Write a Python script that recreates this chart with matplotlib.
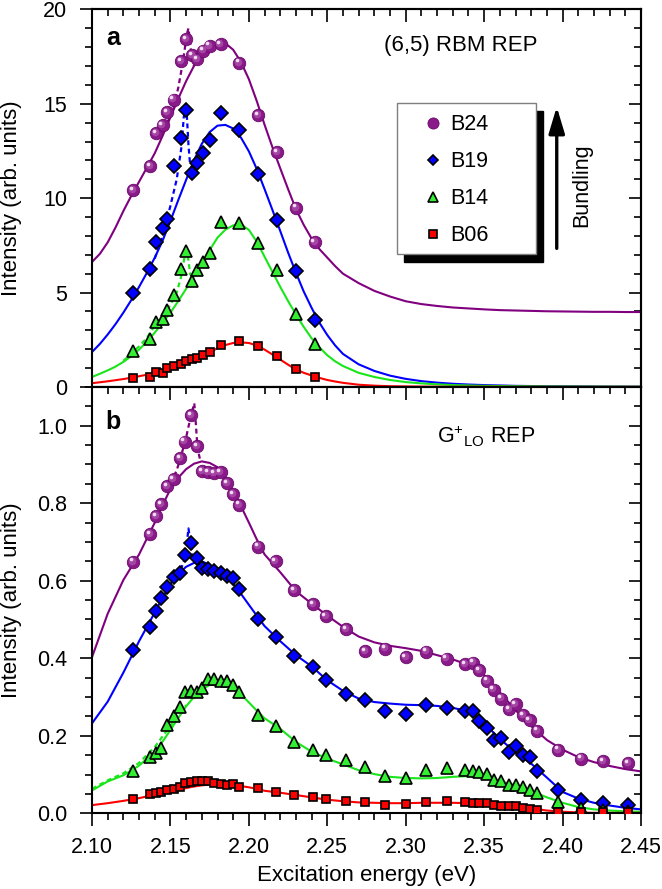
import matplotlib
matplotlib.use('Agg')
import matplotlib.pyplot as plt
from matplotlib.lines import Line2D
from matplotlib.patches import Rectangle
from matplotlib.ticker import MultipleLocator, FormatStrFormatter
from matplotlib.transforms import offset_copy

plt.rcParams['font.family'] = ['Liberation Sans', 'DejaVu Sans']
plt.rcParams['mathtext.default'] = 'regular'

# ---- data ----
# panel a: (6,5) RBM resonance excitation profiles
energy_a = [2.126, 2.137, 2.141, 2.145, 2.148, 2.152, 2.157, 2.160, 2.164, 2.167,
            2.171, 2.175, 2.182, 2.194, 2.206, 2.218, 2.230, 2.242]
b24_a = [10.42, 11.71, 13.43, 13.87, 14.57, 15.22, 17.26, 18.41, 17.57, 17.35,
         17.81, 18.07, 18.14, 17.17, 14.40, 12.45, 9.49, 7.68]
b19_a = [4.97, 6.23, 7.68, 8.44, 8.91, 11.70, 13.21, 14.69, 11.33, 11.84,
         12.40, 13.10, 14.52, 13.59, 11.30, 8.86, 6.14, 3.56]
b14_a = [1.93, 2.52, 3.44, 3.62, 4.09, 4.88, 6.27, 7.20, 5.60, 6.18,
         6.62, 7.09, 8.74, 8.68, 7.60, 6.21, 3.88, 2.29]
b06_a = [0.48, 0.52, 0.78, 0.73, 0.99, 1.11, 1.20, 1.35, 1.46, 1.53,
         1.67, 1.85, 2.20, 2.43, 2.16, 1.62, 0.97, 0.55]

# panel b: G+LO resonance excitation profiles
energy_b = [2.126, 2.137, 2.141, 2.144, 2.148, 2.152, 2.156, 2.159, 2.163, 2.167,
            2.170, 2.174, 2.178, 2.182, 2.186, 2.190, 2.194, 2.206, 2.217, 2.229,
            2.241, 2.249, 2.262, 2.274, 2.287, 2.300, 2.313, 2.326, 2.338, 2.343,
            2.347, 2.352, 2.356, 2.361, 2.366, 2.370, 2.375, 2.379, 2.384, 2.397,
            2.412, 2.426, 2.442]
b24_b = [0.649, 0.720, 0.767, 0.797, 0.845, 0.862, 0.916, 0.959, 1.028, 0.948,
         0.883, 0.881, 0.877, 0.881, 0.852, 0.824, 0.796, 0.688, 0.651, 0.575,
         0.539, 0.508, 0.475, 0.419, 0.425, 0.403, 0.417, 0.399, 0.384, 0.389,
         0.369, 0.342, 0.319, 0.296, 0.269, 0.281, 0.253, 0.241, 0.213, 0.164,
         0.141, 0.135, 0.129]
b19_b = [0.422, 0.480, 0.521, 0.556, 0.584, 0.609, 0.620, 0.666, 0.698, 0.658,
         0.633, 0.631, 0.625, 0.619, 0.613, 0.606, 0.578, 0.500, 0.455, 0.406,
         0.377, 0.345, 0.308, 0.292, 0.265, 0.257, 0.279, 0.271, 0.263, 0.263,
         0.239, 0.219, 0.189, 0.195, 0.157, 0.174, 0.150, 0.146, 0.109, 0.060,
         0.034, 0.027, 0.021]
b14_b = [0.108, 0.146, 0.155, 0.168, 0.228, 0.251, 0.275, 0.312, 0.316, 0.314,
         0.323, 0.346, 0.346, 0.340, 0.340, 0.331, 0.314, 0.253, 0.226, 0.185,
         0.163, 0.150, 0.137, 0.120, 0.096, 0.090, 0.112, 0.116, 0.112, 0.109,
         0.106, 0.102, 0.086, 0.083, 0.073, 0.073, 0.069, 0.059, 0.052, 0.030,
         0.013, 0.009, 0.007]
b06_b = [0.036, 0.050, 0.052, 0.056, 0.060, 0.063, 0.069, 0.077, 0.081, 0.084,
         0.084, 0.084, 0.079, 0.075, 0.073, 0.075, 0.069, 0.065, 0.054, 0.048,
         0.042, 0.038, 0.032, 0.028, 0.022, 0.025, 0.028, 0.031, 0.028, 0.026,
         0.026, 0.026, 0.021, 0.020, 0.019, 0.019, 0.013, 0.012, 0.009, 0.004,
         0.003, 0.003, 0.002]

# fitted curves (solid), read every 5 meV around the peaks, 10 meV elsewhere
fit_energy_a = [2.100, 2.105, 2.110, 2.115, 2.120, 2.125, 2.130, 2.135, 2.140, 2.145,
                2.150, 2.155, 2.160, 2.165, 2.170, 2.175, 2.180, 2.185, 2.190, 2.195,
                2.200, 2.205, 2.210, 2.215, 2.220, 2.225, 2.230, 2.235, 2.240, 2.245,
                2.250, 2.255, 2.260, 2.27, 2.28, 2.29, 2.30, 2.31, 2.32, 2.33,
                2.34, 2.35, 2.36, 2.37, 2.38, 2.39, 2.40, 2.41, 2.42, 2.43,
                2.44, 2.45]
fit_b24_a = [6.62, 7.05, 7.66, 8.45, 9.32, 10.12, 10.87, 11.62, 12.38, 13.30,
             14.29, 15.27, 16.20, 17.00, 17.66, 18.05, 18.21, 18.20, 17.86, 17.20,
             16.30, 15.15, 13.89, 12.70, 11.58, 10.48, 9.42, 8.58, 7.86, 7.30,
             6.85, 6.40, 6.00, 5.50, 5.09, 4.79, 4.54, 4.39, 4.29, 4.21,
             4.16, 4.11, 4.07, 4.05, 4.03, 4.01, 4.00, 3.99, 3.98, 3.98,
             3.97, 3.97]
fit_b19_a = [1.85, 2.28, 2.78, 3.33, 3.94, 4.60, 5.30, 6.05, 6.85, 7.75,
             8.80, 9.90, 10.97, 12.00, 12.88, 13.50, 13.84, 13.88, 13.69, 13.20,
             12.48, 11.55, 10.48, 9.38, 8.26, 7.12, 6.05, 5.05, 4.19, 3.40,
             2.75, 2.20, 1.75, 1.20, 0.85, 0.60, 0.43, 0.31, 0.23, 0.17,
             0.13, 0.10, 0.08, 0.06, 0.05, 0.04, 0.035, 0.03, 0.025, 0.02,
             0.02, 0.015]
fit_b14_a = [0.53, 0.70, 0.88, 1.08, 1.33, 1.63, 1.98, 2.40, 2.88, 3.40,
             3.94, 4.55, 5.20, 5.88, 6.55, 7.25, 7.91, 8.33, 8.56, 8.60,
             8.32, 7.70, 6.90, 6.10, 5.30, 4.55, 3.84, 3.18, 2.58, 2.10,
             1.68, 1.36, 1.11, 0.75, 0.53, 0.37, 0.26, 0.19, 0.14, 0.10,
             0.08, 0.06, 0.05, 0.04, 0.035, 0.03, 0.025, 0.02, 0.02, 0.02,
             0.015, 0.015]
fit_b06_a = [0.20, 0.25, 0.30, 0.36, 0.42, 0.49, 0.57, 0.65, 0.74, 0.86,
             1.00, 1.15, 1.31, 1.48, 1.65, 1.85, 2.05, 2.22, 2.33, 2.36,
             2.33, 2.20, 1.98, 1.72, 1.45, 1.18, 0.93, 0.75, 0.61, 0.48,
             0.37, 0.29, 0.22, 0.12, 0.07, 0.04, 0.03, 0.02, 0.015, 0.01,
             0.01, 0.01, 0.005, 0.005, 0.005, 0.005, 0.005, 0.005, 0.005, 0.005,
             0.005, 0.005]

fit_energy_b = [2.10, 2.11, 2.12, 2.13, 2.140, 2.145, 2.150, 2.155, 2.160, 2.165,
                2.170, 2.175, 2.180, 2.185, 2.190, 2.195, 2.200, 2.205, 2.210, 2.22,
                2.23, 2.24, 2.25, 2.26, 2.27, 2.28, 2.29, 2.30, 2.31, 2.32,
                2.33, 2.34, 2.35, 2.36, 2.37, 2.38, 2.39, 2.40, 2.41, 2.42,
                2.43, 2.44, 2.45]
fit_b24_b = [0.403, 0.515, 0.602, 0.668, 0.750, 0.795, 0.837, 0.866, 0.888, 0.902,
             0.908, 0.904, 0.893, 0.866, 0.831, 0.792, 0.750, 0.707, 0.668, 0.622,
             0.573, 0.541, 0.510, 0.481, 0.456, 0.441, 0.432, 0.426, 0.419, 0.408,
             0.397, 0.383, 0.357, 0.312, 0.266, 0.225, 0.189, 0.164, 0.145, 0.132,
             0.122, 0.114, 0.108]
fit_b19_b = [0.232, 0.288, 0.363, 0.444, 0.518, 0.556, 0.592, 0.618, 0.636, 0.646,
             0.650, 0.641, 0.626, 0.610, 0.592, 0.566, 0.538, 0.510, 0.483, 0.444,
             0.408, 0.379, 0.343, 0.316, 0.296, 0.287, 0.283, 0.280, 0.279, 0.277,
             0.272, 0.263, 0.232, 0.192, 0.157, 0.128, 0.092, 0.055, 0.038, 0.027,
             0.020, 0.014, 0.010]
fit_b14_b = [0.059, 0.082, 0.098, 0.123, 0.159, 0.185, 0.215, 0.246, 0.276, 0.300,
             0.320, 0.331, 0.335, 0.332, 0.324, 0.307, 0.286, 0.265, 0.245, 0.218,
             0.184, 0.159, 0.141, 0.126, 0.111, 0.101, 0.094, 0.091, 0.090, 0.091,
             0.094, 0.096, 0.094, 0.083, 0.072, 0.057, 0.041, 0.027, 0.016, 0.010,
             0.007, 0.005, 0.004]
fit_b06_b = [0.021, 0.026, 0.032, 0.039, 0.048, 0.052, 0.056, 0.061, 0.065, 0.069,
             0.072, 0.074, 0.075, 0.075, 0.073, 0.070, 0.067, 0.063, 0.058, 0.053,
             0.047, 0.041, 0.035, 0.031, 0.028, 0.027, 0.026, 0.026, 0.027, 0.027,
             0.027, 0.026, 0.024, 0.021, 0.018, 0.013, 0.007, 0.004, 0.002, 0.001,
             0.001, 0.001, 0.001]

# fits with the extra narrow resonance (dashed), only where they leave the solid ones
dash_b24_a_x = [2.148, 2.152, 2.155, 2.158, 2.1605, 2.1615, 2.1625, 2.1635, 2.165]
dash_b24_a = [13.95, 14.85, 15.85, 17.25, 18.7, 19.0, 18.3, 17.4, 17.0]
dash_b19_a_x = [2.140, 2.145, 2.150, 2.154, 2.157, 2.1585, 2.1595, 2.1605, 2.1615, 2.1625, 2.164]
dash_b19_a = [6.8, 8.0, 9.6, 11.0, 12.7, 14.3, 14.75, 14.3, 12.8, 11.8, 11.9]
dash_b14_a_x = [2.120, 2.130, 2.135, 2.140, 2.145, 2.150, 2.154, 2.157, 2.159, 2.1605, 2.1615, 2.1625, 2.164]
dash_b14_a = [1.38, 2.15, 2.6, 3.25, 3.75, 4.35, 5.0, 5.9, 6.9, 7.2, 6.7, 6.0, 5.75]
dash_b24_b_x = [2.150, 2.154, 2.157, 2.160, 2.163, 2.1652, 2.1662, 2.1672, 2.169]
dash_b24_b = [0.850, 0.885, 0.925, 0.970, 1.025, 1.058, 1.005, 0.944, 0.910]
dash_b19_b_x = [2.153, 2.156, 2.1585, 2.1605, 2.1615, 2.163, 2.165]
dash_b19_b = [0.612, 0.625, 0.648, 0.699, 0.735, 0.689, 0.650]
dash_b14_b_x = [2.10, 2.11, 2.12, 2.13, 2.14, 2.15, 2.16]
dash_b14_b = [0.063, 0.085, 0.103, 0.130, 0.171, 0.226, 0.279]

labels = ['B24', 'B19', 'B14', 'B06']

PURPLE = '#80007f'
SPHERE = '#8a1a8a'
BLUE = '#0000ff'
GREEN = '#19e619'
TRI = '#33ee33'
RED = '#ff0000'
FS = 15.5
FS_LABEL = 16

fig = plt.figure(figsize=(6.62, 8.89), dpi=100)
ax_a = fig.add_axes([0.1390, 0.5647, 0.8293, 0.4248])
ax_b = fig.add_axes([0.1390, 0.0852, 0.8293, 0.4795])


def spheres(ax, x, y):
    # purple balls with a small highlight, like the original
    ax.plot(x, y, 'o', ms=9, color=SPHERE, mec='#6a0a6a', mew=0.6, zorder=5)
    mid = offset_copy(ax.transData, fig=fig, x=-1.2, y=1.2, units='dots')
    ax.plot(x, y, 'o', ms=5.5, color='#a445a4', mew=0, zorder=5, transform=mid)
    hl = offset_copy(ax.transData, fig=fig, x=-2.3, y=2.3, units='dots')
    ax.plot(x, y, 'o', ms=2.6, color='#f2dcf2', mew=0, zorder=5, transform=hl)


def draw_panel(ax, x, series, fit_x, fits, dashes):
    cols = [PURPLE, BLUE, GREEN, RED]
    for c, f in zip(cols, fits):
        ax.plot(fit_x, f, '-', color=c, lw=1.5, zorder=2)
    for c, (dx, dy) in zip(cols, dashes):
        ax.plot(dx, dy, color=c, lw=1.6, ls=(0, (2.2, 1.6)), zorder=2)
    spheres(ax, x, series[0])
    ax.plot(x, series[1], 'D', ms=7.4, mfc=BLUE, mec='black', mew=1.2, ls='none', zorder=4)
    ax.plot(x, series[2], '^', ms=8.6, mfc=TRI, mec='black', mew=1.2, ls='none', zorder=4)
    ax.plot(x, series[3], 's', ms=6.3, mfc=RED, mec='black', mew=1.2, ls='none', zorder=4)


def style_axes(ax, ymaj, ymin, show_x):
    ax.set_xlim(2.10, 2.45)
    ax.xaxis.set_major_locator(MultipleLocator(0.05))
    ax.xaxis.set_minor_locator(MultipleLocator(0.01))
    ax.yaxis.set_major_locator(MultipleLocator(ymaj))
    ax.yaxis.set_minor_locator(MultipleLocator(ymin))
    ax.xaxis.set_major_formatter(FormatStrFormatter('%.2f'))
    for s in ax.spines.values():
        s.set_linewidth(1.5)
    ax.tick_params(which='both', direction='out', width=1.2, labelsize=FS,
                   top=False, right=False, bottom=show_x, labelbottom=show_x)
    ax.tick_params(which='major', length=9)
    ax.tick_params(which='minor', length=5)
    ax.tick_params(axis='y', pad=9)
    ax.tick_params(axis='x', pad=8)

    # top and right ticks point inward
    top = ax.secondary_xaxis('top')
    top.xaxis.set_major_locator(MultipleLocator(0.05))
    top.xaxis.set_minor_locator(MultipleLocator(0.01))
    top.tick_params(which='both', direction='in', width=1.2, labeltop=False)
    top.tick_params(which='major', length=9)
    top.tick_params(which='minor', length=5)
    right = ax.secondary_yaxis('right')
    right.yaxis.set_major_locator(MultipleLocator(ymaj))
    right.yaxis.set_minor_locator(MultipleLocator(ymin))
    right.tick_params(which='both', direction='in', width=1.2, labelright=False)
    right.tick_params(which='major', length=9)
    right.tick_params(which='minor', length=5)
    for sec in (top, right):
        for s in sec.spines.values():
            s.set_linewidth(1.5)

    ax.set_ylabel('Intensity (arb. units)', fontsize=FS_LABEL)
    ax.yaxis.set_label_coords(-0.127, 0.5)


# ---- panel a ----
draw_panel(ax_a, energy_a, [b24_a, b19_a, b14_a, b06_a], fit_energy_a,
           [fit_b24_a, fit_b19_a, fit_b14_a, fit_b06_a],
           [(dash_b24_a_x, dash_b24_a), (dash_b19_a_x, dash_b19_a), (dash_b14_a_x, dash_b14_a), ([], [])])
ax_a.set_ylim(0, 20)
style_axes(ax_a, 5, 1, False)
ax_a.text(0.038, 0.924, 'a', transform=ax_a.transAxes, fontsize=18, fontweight='bold',
          ha='center', va='center')
ax_a.text(0.532, 0.903, '(6,5) RBM REP', transform=ax_a.transAxes, fontsize=FS_LABEL, va='center')

# legend box with a black drop shadow
bx, by, bw, bh = 0.5556, 0.3513, 0.2532, 0.4003
ax_a.add_patch(Rectangle((bx + 0.0128, by - 0.0204), bw, bh, transform=ax_a.transAxes,
                         fc='black', ec='black', zorder=8))
ax_a.add_patch(Rectangle((bx, by), bw, bh, transform=ax_a.transAxes,
                         fc='white', ec='#7f7f7f', lw=1.0, zorder=9))
handles = [Line2D([], [], marker='o', ls='none', ms=8, color=SPHERE, mec='#6a0a6a', mew=0.6),
           Line2D([], [], marker='D', ls='none', ms=5.5, mfc=BLUE, mec='black', mew=1.2),
           Line2D([], [], marker='^', ls='none', ms=7, mfc=TRI, mec='black', mew=1.2),
           Line2D([], [], marker='s', ls='none', ms=5.5, mfc=RED, mec='black', mew=1.2)]
leg = ax_a.legend(handles, labels, loc='upper left', bbox_to_anchor=(0.601, 0.722),
                  frameon=False, fontsize=FS, borderpad=0, borderaxespad=0,
                  handlelength=1.0, handletextpad=0.3, labelspacing=0.74)
leg.set_zorder(10)

ax_a.annotate('', xy=(0.8465, 0.742), xytext=(0.8465, 0.367), xycoords='axes fraction',
              arrowprops=dict(arrowstyle='-|>,head_width=0.3,head_length=1.0', lw=2.4,
                              color='black', mutation_scale=16, shrinkA=0, shrinkB=0))
ax_a.text(0.8925, 0.534, 'Bundling', transform=ax_a.transAxes, rotation=90, fontsize=FS,
          ha='center', va='center')

# ---- panel b ----
draw_panel(ax_b, energy_b, [b24_b, b19_b, b14_b, b06_b], fit_energy_b,
           [fit_b24_b, fit_b19_b, fit_b14_b, fit_b06_b],
           [(dash_b24_b_x, dash_b24_b), (dash_b19_b_x, dash_b19_b), (dash_b14_b_x, dash_b14_b), ([], [])])
ax_b.set_ylim(0, 1.1)
style_axes(ax_b, 0.2, 0.05, True)
ax_b.yaxis.set_major_formatter(FormatStrFormatter('%.1f'))
ax_b.set_xlabel('Excitation energy (eV)', fontsize=FS_LABEL, labelpad=5)
ax_b.text(0.038, 0.918, 'b', transform=ax_b.transAxes, fontsize=18, fontweight='bold',
          ha='center', va='center')
ax_b.text(0.628, 0.883, 'G$^{+}$$_{LO}$ REP', transform=ax_b.transAxes, fontsize=FS,
          va='center')

fig.savefig('out.png', dpi=100)
